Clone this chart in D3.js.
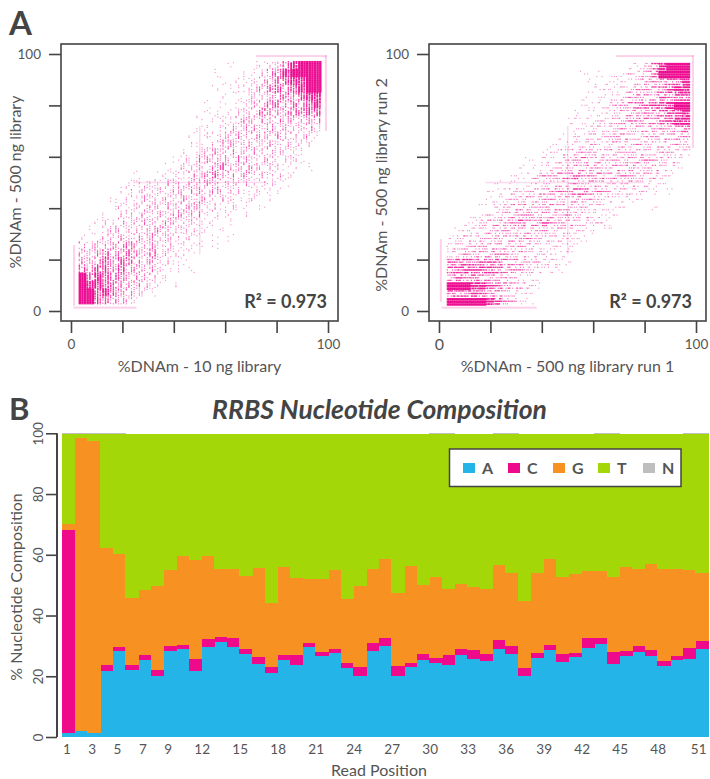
<!DOCTYPE html>
<html>
<head>
<meta charset="utf-8">
<script src="https://cdn.jsdelivr.net/npm/d3@7"></script>
<style>
  html, body { margin: 0; padding: 0; background: #fff; }
  text { font-family: Lato, "Open Sans", sans-serif; fill: #555; }
  .axis path { display: none; }
</style>
</head>
<body>
<svg id="chart" width="710" height="779"></svg>
<script>
// Panel A: the clouds are too dense to read dot by dot, so these are density
// levels (0-9) per bin. Rows run top to bottom, columns left to right.
var densityLeft = [
  "0000000000000000000100112368999",
  "0000000000000000010001125689999",
  "0000000000000000001011234678899",
  "0000000000000000010112346757899",
  "0000000000000000001011324565788",
  "0000000000000000101012436646578",
  "0000000000000000110123265456677",
  "0000000000000001012135343444355",
  "0000000000000001102324425242342",
  "0000000000000010213352443523231",
  "0000000000000011024524234232220",
  "0000000000000102353423423322100",
  "0000000000001214534254233123100",
  "0000000000010323156344423211010",
  "0000000100112143563425232211000",
  "0000001212133142532323122110000",
  "0000012132324344252321211100000",
  "0000102143232524313211201000000",
  "0000121324243354221211010000000",
  "0001023142425443121101000000000",
  "0012132343253232110100000000000",
  "0102423234532321101000000000000",
  "1013242435242121010100000000000",
  "3243546435231211010000000000000",
  "4356456536232110000000000000000",
  "5457576435221100000000000000000",
  "6577574534211010000000000000000",
  "9687664433110000000000000000000",
  "9887654532101000000000000000000",
  "9978654321000000000000000000000",
  "9976543100000000000000000000000"
];
var densityRight = [
  "0000000000000000000000011368999",
  "0000000000000000010101122469999",
  "0000000000000000001011113445668",
  "0000000000000000001111234456788",
  "0000000000000000010112235446577",
  "0000000000000000011123456677899",
  "0000000000000000101112344556778",
  "0000000000000001111223455556788",
  "0000000000000000112223324344456",
  "0000000000000010213234432343444",
  "0000000000000101223123323323233",
  "0000000000001122334233333323322",
  "0000000000102123452433344533220",
  "0000000001011223344324342332110",
  "0000000011134455645544543332100",
  "0000001010112232324322232211000",
  "0000011132234554664532322110100",
  "0000011223334333433221111000000",
  "0000102334334443232211100010000",
  "0001122344534434322111000000000",
  "0011334456456443322210000000000",
  "0112233433334232211010000000000",
  "1232324344432322110000000000000",
  "2333434333321211100000000000000",
  "2244445433222111000000000000000",
  "6676666554332211000000000000000",
  "6777776554321110000000000000000",
  "5656554321110000000000000000000",
  "9998876543210000000000000000000",
  "6667655321100000000000000000000",
  "9999987531100000000000000000000"
];
// pale runs of points sitting on the plot edges: x0, x1, y0, y1
var edgesLeft = [[0.8, 1.6, 2, 25.7], [1, 25.5, 0.9, 1.7], [72, 99.5, 98.8, 99.6], [98.8, 99.6, 70, 99.5]];
var edgesRight = [[0.3, 1.1, 3.5, 28], [1, 38, 0.9, 1.7], [69, 99, 98.8, 99.6], [98.4, 99.2, 63.5, 99.5]];
// and the fainter ones on the 50% lines
var crossLeft = [[49.8, 50.4, 22, 72], [25, 76, 49.7, 50.3]];
var crossRight = [[49.8, 50.4, 22, 72], [18, 80, 49.7, 50.3]];
var scatterTicks = [0, 20, 40, 60, 80, 100];
var binStart = 3, binSize = 3.05;
// dots drawn in a bin for each density level, out of the 36 lattice places
var levelDots = [0, 3, 6, 9, 12, 15, 19, 24, 30, 36];
// fixed fill order of the lattice, there is no randomness in the dots
var ditherOrder = [14, 3, 27, 20, 33, 8, 1, 23, 30, 11, 17, 35, 5, 26, 12, 0, 21, 32, 9, 15, 28, 6, 19, 34, 2, 24, 10, 29, 16, 4, 22, 31, 7, 13, 25, 18];

// Panel B: percent per read position
var positions = d3.range(1, 52);
var valA = [1.3, 2, 1.3, 21.7, 28.3, 22.1, 25.4, 20.1, 28.3, 29, 21.7, 29.6, 31.3, 29.6, 27.3, 24, 21.1, 25.4, 23.7, 29.6, 26.7, 27.7, 22.7, 20.1, 28.3, 30, 20.1, 23, 25.4, 24.4, 23.7, 27, 25.7, 25, 29, 27.3, 20.1, 26, 28.6, 24.7, 26.3, 29.3, 30.6, 24, 26.7, 28, 26.7, 23.4, 25.4, 25.7, 29];
var valC = [66.9, 0, 0, 2, 1.3, 1.6, 1.6, 2, 1.7, 1.3, 4, 2.7, 1.6, 3, 1.7, 2.3, 1.9, 1.6, 3.3, 1.4, 1.3, 1.3, 1.7, 2.9, 2.7, 2.6, 3.3, 1.4, 1.9, 1.6, 3.3, 2, 2.9, 2.3, 3, 2.7, 2.6, 1.7, 1.7, 2.6, 1.4, 3.3, 2, 4, 1.6, 2, 1.9, 1.6, 1.3, 3.6, 2.6];
var valG = [1.9, 96.5, 96.2, 38.5, 30.7, 22.1, 21.4, 27.6, 25, 29.3, 32.6, 27.3, 22.4, 22.7, 24, 29.4, 21.1, 29, 25.4, 21, 24, 26, 21, 26.7, 24.3, 26, 24, 31.9, 22.7, 26.7, 21.7, 21.4, 20.8, 21.4, 24.6, 24, 22.1, 26.3, 28.3, 25.4, 26, 22.1, 22.1, 24.7, 27.7, 25.3, 28.4, 30.3, 28.6, 25.7, 22.4];
var valT = [29.8, 1.4, 2.4, 37.7, 39.6, 54.1, 51.5, 50.2, 44.9, 40.3, 41.6, 40.3, 44.6, 44.6, 46.9, 44.2, 55.8, 43.9, 47.5, 47.9, 47.9, 44.9, 54.5, 50.2, 44.6, 41.3, 52.5, 43.6, 49.9, 47.2, 51.2, 49.5, 50.5, 51.2, 43.3, 45.9, 55.1, 45.9, 41.3, 47.2, 46.2, 45.2, 45.2, 47.2, 43.9, 44.6, 42.9, 44.6, 44.6, 44.9, 45.9];
var valN = [0.1, 0.1, 0.1, 0.1, 0.1, 0, 0, 0, 0, 0, 0, 0, 0, 0, 0, 0, 0, 0, 0, 0, 0, 0, 0, 0, 0, 0, 0, 0, 0, 0.1, 0.1, 0, 0, 0, 0.1, 0.1, 0, 0, 0, 0, 0, 0, 0.1, 0.1, 0, 0, 0, 0, 0, 0.1, 0.1];
var bases = ["A", "C", "G", "T", "N"];
var baseColors = ["#24b4e8", "#ee0a8a", "#f79122", "#a3d707", "#bebebe"];
var compTicks = [0, 20, 40, 60, 80, 100];
var posLabels = [1, 3, 5, 7, 9, 12, 15, 18, 21, 24, 27, 30, 33, 36, 39, 42, 45, 48, 51];

var svg = d3.select("#chart");
var dark = "#444";

svg.append("text").text("A").attr("x", 9).attr("y", 35).style("font-size", "33px").style("font-weight", 700).style("fill", dark);
svg.append("text").text("B").attr("x", 9).attr("y", 420).style("font-size", "31px").style("font-weight", 700).style("fill", dark);

function drawScatter(opts) {
    var x = d3.scaleLinear().domain([0, 100]).range([opts.left + 10, opts.left + 267]);
    var y = d3.scaleLinear().domain([0, 100]).range([311, 54]);
    var g = svg.append("g");

    function drawStrips(data, alpha) {
        g.append("g").selectAll("rect").data(data).enter().append("rect")
            .attr("x", function(d) { return x(d[0]); })
            .attr("width", function(d) { return x(d[1]) - x(d[0]); })
            .attr("y", function(d) { return y(d[3]); })
            .attr("height", function(d) { return y(d[2]) - y(d[3]); })
            .attr("fill", "#ec008c")
            .attr("opacity", alpha);
    }
    drawStrips(opts.edges, 0.18);
    drawStrips(opts.cross, 0.14);

    // turn density levels into lattice dots. The lattice is wider one way than the other,
    // the left cloud shows vertical lines and the right one horizontal lines
    var dots = [];
    var wideStep = binSize / 3, fineStep = binSize / 12;
    opts.density.forEach(function(row, r) {
        row.split("").forEach(function(ch, c) {
            var n = levelDots[+ch];
            var shift = (c * 7 + r * 11) % ditherOrder.length;
            for (var i = 0; i < n; i++) {
                var p = ditherOrder[(i + shift) % ditherOrder.length];
                var wide = (p % 3) * wideStep, fine = Math.floor(p / 3) * fineStep;
                dots.push({
                    x: binStart + c * binSize + (opts.rowStreaks ? fine : wide),
                    y: binStart + (30 - r) * binSize + (opts.rowStreaks ? wide : fine),
                    level: +ch
                });
            }
        });
    });
    // the top levels run together into a solid patch
    function dotWide(d) { return d.level == 9 ? 2.3 : d.level == 8 ? 1.7 : d.level >= 6 ? 1.3 : 1.1; }
    var dotAlpha = d3.scaleLinear().domain([1, 5, 9]).range([0.45, 0.6, 0.92]);
    g.append("g").selectAll("rect").data(dots).enter().append("rect")
        .attr("x", function(d) { return x(d.x); })
        .attr("y", function(d) { return y(d.y); })
        .attr("width", function(d) { return opts.rowStreaks ? 1.1 : dotWide(d); })
        .attr("height", function(d) { return opts.rowStreaks ? dotWide(d) : 1.1; })
        .attr("fill", "#ec008c")
        .attr("opacity", function(d) { return dotAlpha(d.level); });

    g.append("rect")
        .attr("x", opts.left).attr("y", 44).attr("width", 277).attr("height", 277)
        .attr("fill", "none").attr("stroke", dark).attr("stroke-width", 1.6);

    var xAxis = g.append("g").attr("class", "axis").attr("transform", "translate(0,321)")
        .call(d3.axisBottom(x).tickValues(scatterTicks).tickSize(12).tickPadding(6)
            .tickFormat(function(d) { return d == 0 || d == 100 ? d : ""; }));
    var yAxis = g.append("g").attr("class", "axis").attr("transform", "translate(" + opts.left + ",0)")
        .call(d3.axisLeft(y).tickValues(scatterTicks).tickSize(12).tickPadding(8)
            .tickFormat(function(d) { return d == 0 || d == 100 ? d : ""; }));
    [xAxis, yAxis].forEach(function(a) {
        a.selectAll("line").attr("stroke", dark).attr("stroke-width", 1.6);
        a.selectAll("text").style("font-size", "13.5px").style("font-family", "Lato").style("fill", "#555");
    });
    // the 0 of the right panel is set larger in the picture
    if (opts.bigZero) {
        xAxis.selectAll("text").filter(function(d) { return d == 0; }).style("font-size", "16px");
    }

    svg.append("text").text(opts.xTitle)
        .attr("x", x(50)).attr("y", 372).attr("text-anchor", "middle").style("font-size", "16px");
    svg.append("text").text(opts.yTitle)
        .attr("transform", "translate(" + opts.yTitleX + "," + opts.yTitleY + ") rotate(-90)")
        .attr("text-anchor", "middle").style("font-size", "16px");
    svg.append("text").text("R² = 0.973")
        .attr("x", opts.r2Right).attr("y", 308).attr("text-anchor", "end")
        .style("font-size", "18px").style("font-weight", 700).style("fill", dark);
}

drawScatter({
    left: 61, density: densityLeft, edges: edgesLeft, cross: crossLeft, rowStreaks: false, bigZero: false,
    xTitle: "%DNAm - 10 ng library", yTitle: "%DNAm - 500 ng library", yTitleX: 21, yTitleY: 182, r2Right: 327
});
drawScatter({
    left: 429, density: densityRight, edges: edgesRight, cross: crossRight, rowStreaks: true, bigZero: true,
    xTitle: "%DNAm - 500 ng library run 1", yTitle: "%DNAm - 500 ng library run 2", yTitleX: 387, yTitleY: 185, r2Right: 692
});

// Panel B
var rows = positions.map(function(p, i) {
    return { pos: p, A: valA[i], C: valC[i], G: valG[i], T: valT[i], N: valN[i] };
});
var xBand = d3.scaleBand().domain(positions).range([62, 708]);
var yComp = d3.scaleLinear().domain([0, 100]).range([737, 433.3]);
var colorOf = d3.scaleOrdinal().domain(bases).range(baseColors);
var series = d3.stack().keys(bases)(rows);

svg.append("g").selectAll("g").data(series).enter().append("g")
    .attr("fill", function(d) { return colorOf(d.key); })
    .attr("shape-rendering", "crispEdges")
    .selectAll("rect").data(function(d) { return d; }).enter().append("rect")
    .attr("x", function(d) { return xBand(d.data.pos); })
    .attr("width", xBand.bandwidth() + 0.5)
    .attr("y", function(d) { return yComp(d[1]); })
    .attr("height", function(d) { return yComp(d[0]) - yComp(d[1]); });

var compAxis = svg.append("g").attr("class", "axis").attr("transform", "translate(57,0)")
    .call(d3.axisLeft(yComp).tickValues(compTicks).tickSize(11));
compAxis.selectAll("line").attr("stroke", dark).attr("stroke-width", 1.6);
compAxis.append("line").attr("y1", yComp(0)).attr("y2", yComp(100)).attr("stroke", dark).attr("stroke-width", 2);
compAxis.selectAll("text")
    .attr("x", null).attr("dy", null)
    .attr("text-anchor", "middle")
    .attr("transform", "translate(-14,0) rotate(-90)")
    .style("font-size", "13.5px").style("font-family", "Lato").style("fill", "#555");

var posAxis = svg.append("g").attr("class", "axis").attr("transform", "translate(0,737)")
    .call(d3.axisBottom(xBand).tickValues(posLabels).tickSize(0).tickPadding(7));
posAxis.selectAll("text")
    .attr("dx", function(d) { return d == 51 ? -3 : d > 9 ? -5.5 : -1.5; })
    .style("font-size", "13.5px").style("font-family", "Lato").style("fill", "#555");

svg.append("text").text("RRBS Nucleotide Composition")
    .attr("x", 379.5).attr("y", 419).attr("text-anchor", "middle")
    .style("font-size", "26.5px").style("font-weight", 700).style("font-style", "italic").style("fill", dark);
svg.append("text").text("% Nucleotide Composition")
    .attr("transform", "translate(22,587) rotate(-90)").attr("text-anchor", "middle").style("font-size", "16px");
svg.append("text").text("Read Position")
    .attr("x", 379).attr("y", 776).attr("text-anchor", "middle").style("font-size", "16px");

// legend
var legend = svg.append("g").attr("transform", "translate(449.5,449)");
legend.append("rect").attr("width", 231.5).attr("height", 37.5)
    .attr("fill", "#fff").attr("stroke", dark).attr("stroke-width", 1.5);
var legendX = d3.scalePoint().domain(bases).range([13.5, 193.5]);
var items = legend.selectAll("g").data(bases).enter().append("g")
    .attr("transform", function(d) { return "translate(" + legendX(d) + ",14)"; });
items.append("rect").attr("width", 12).attr("height", 10)
    .attr("fill", function(d) { return colorOf(d); });
items.append("text").text(function(d) { return d; })
    .attr("x", 19).attr("y", 10.5)
    .style("font-size", "16px").style("font-weight", 700).style("fill", "#555");
</script>
</body>
</html>
